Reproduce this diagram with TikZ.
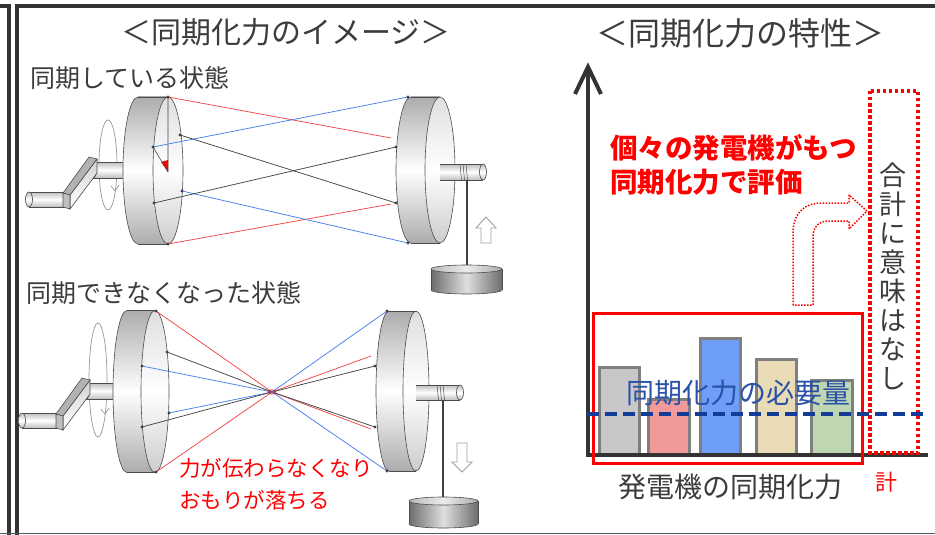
\documentclass[tikz,border=0pt]{standalone}
\usepackage{fontspec}
\setmainfont{Noto Sans CJK JP}
\usetikzlibrary{arrows.meta}
\definecolor{dk}{HTML}{333333}
\definecolor{tx}{HTML}{3C3C3C}
\definecolor{rd}{HTML}{FF0000}
\definecolor{lr}{HTML}{F04848}
\definecolor{lb}{HTML}{4A7FF0}
\definecolor{lk}{HTML}{454545}
\definecolor{nv}{HTML}{123C96}
\definecolor{tb}{HTML}{2A52A8}
\definecolor{bA}{HTML}{C9C7C9}
\definecolor{bB}{HTML}{F09A9A}
\definecolor{bC}{HTML}{6E9EF7}
\definecolor{bD}{HTML}{E8DBB5}
\definecolor{bE}{HTML}{BED6B2}
\definecolor{bo}{HTML}{7F7F7F}
\newcommand{\mydisc}[5]{%
  \shade[sidesh] (#1,#3) ellipse [x radius=#4, y radius=#5];
  \draw[dl] (#1,#3) ellipse [x radius=#4, y radius=#5];
  \shade[sidesh] (#1,{#3-#5}) rectangle (#2,{#3+#5});
  \draw[dl] (#1,{#3-#5}) -- (#2,{#3-#5}) (#1,{#3+#5}) -- (#2,{#3+#5});
  \shade[facesh] (#2,#3) ellipse [x radius=#4, y radius=#5];
  \draw[dl] (#2,#3) ellipse [x radius=#4, y radius=#5];
}
\newcommand{\cylL}[4]{%
  \shade[cylsh] (#1,{#3-#4}) rectangle (#2,{#3+#4});
  \draw[dl] (#1,{#3-#4}) -- (#2,{#3-#4}) (#1,{#3+#4}) -- (#2,{#3+#4});
  \shade[cylsh] (#1,#3) ellipse [x radius=3.5, y radius=#4];
  \draw[dl] (#1,#3) ellipse [x radius=3.5, y radius=#4];
}
\newcommand{\cylR}[4]{%
  \shade[cylsh] (#1,{#3-#4}) rectangle (#2,{#3+#4});
  \draw[dl] (#1,{#3-#4}) -- (#2,{#3-#4}) (#1,{#3+#4}) -- (#2,{#3+#4});
  \shade[cylsh] (#2,#3) ellipse [x radius=3.5, y radius=#4];
  \draw[dl] (#2,#3) ellipse [x radius=3.5, y radius=#4];
}
\newcommand{\myweight}[4]{% cx, ytop, ybot, rx
  \shade[wsh] (#1,#3) ellipse [x radius=#4, y radius=4];
  \draw[dl] (#1,#3) ellipse [x radius=#4, y radius=4];
  \shade[wsh] ({#1-#4},#2) rectangle ({#1+#4},#3);
  \draw[dl] ({#1-#4},#2) -- ({#1-#4},#3) ({#1+#4},#2) -- ({#1+#4},#3);
  \shade[left color=gray!55, right color=gray!65, middle color=gray!15] (#1,#2) ellipse [x radius=#4, y radius=4];
  \draw[dl] (#1,#2) ellipse [x radius=#4, y radius=4];
}
\newcommand{\mycrank}{%
  \cylL{93}{132}{170}{8}
  \cylL{29}{67}{199.5}{7.5}
  \shade[top color=gray!35, bottom color=white] (70,195) -- (97,159) -- (97,173) -- (70,209) -- cycle;
  \draw[dl] (70,195) -- (97,159) -- (97,173) -- (70,209) -- cycle;
  \fill[gray!60] (63,193) -- (89,157) -- (97,159) -- (70,195) -- cycle;
  \draw[dl] (63,193) -- (89,157) -- (97,159) -- (70,195) -- cycle;
  \fill[gray!50] (63,193) -- (70,195) -- (70,209) -- (63,207) -- cycle;
  \draw[dl] (63,193) -- (70,195) -- (70,209) -- (63,207) -- cycle;
}
\newcommand{\pdot}[1]{\fill[black!75] (#1) circle [radius=1.7];}
\begin{document}
\begin{tikzpicture}[x=1pt,y=-1pt,
  txt/.style={inner sep=0pt, text=tx},
  dl/.style={draw=gray!60!black, line width=0.6pt},
  rl/.style={draw=lr, line width=0.75pt},
  bl/.style={draw=lb, line width=0.75pt},
  kl/.style={draw=lk, line width=0.75pt},
  barbox/.style={draw=bo, line width=3pt},
  sidesh/.style={top color=gray!65, bottom color=gray!65, middle color=white},
  facesh/.style={top color=gray!25, bottom color=gray!40, middle color=white},
  cylsh/.style={top color=gray!50, bottom color=gray!50, middle color=white},
  wsh/.style={left color=gray!85!black, right color=gray!85!black, middle color=gray!25},
  blockarrow/.style={draw=gray!75, fill=white, line width=0.9pt},
  rot/.style={draw=gray!80, line width=0.7pt}
]
\useasboundingbox (0,0) rectangle (935,535);
\fill[white] (0,0) rectangle (935,535);
% frame
\draw[dk, line width=4pt] (-2,6) -- (9,6) -- (9,540);
\draw[dk, line width=4pt] (17,540) -- (17,6) -- (940,6);
\draw[gray!70!black, line width=1.5pt] (0,533.5) -- (935,533.5);

% ---------- left panel titles
\node[txt, font=\fontsize{30}{34}\selectfont] (t1) at (286,32) {＜同期化力のイメージ＞};
\node[txt, anchor=west, font=\fontsize{25}{28}\selectfont] (s1) at (30.5,78) {同期している状態};
\node[txt, anchor=west, font=\fontsize{25}{28}\selectfont] (s2) at (26.5,293) {同期できなくなった状態};

% ---------- top machine
\draw[rot] (108,165) ellipse [x radius=9, y radius=45];
\draw[rot] (111,186) -- (115,191) -- (119,185);
\mycrank
\mydisc{138}{168}{170.5}{15}{73.5}
\mydisc{411}{440}{170}{15}{73}
\coordinate (A1) at (168,97);
\coordinate (A2) at (180,135);
\coordinate (A3) at (153,147);
\coordinate (A4) at (182,191);
\coordinate (A5) at (154,203);
\coordinate (A6) at (168,244);
\coordinate (AC) at (168,172);
\coordinate (B1) at (408,97);
\coordinate (B2) at (396,147);
\coordinate (B3) at (396,203);
\coordinate (B4) at (408,243);
\coordinate (H1) at (391,138);
\coordinate (H2) at (391,204);
\fill[rd] (AC) -- (168,160) -- (161,162) -- cycle;
\draw[kl, line width=0.6pt] (A1) -- (AC) (A3) -- (AC);
\draw[rl] (A1) -- (H1);
\draw[rl] (A6) -- (H2);
\draw[bl] (A3) -- (B1);
\draw[bl] (A4) -- (B4);
\draw[kl] (A2) -- (B3);
\draw[kl] (A5) -- (B2);
\foreach \p in {A1,A2,A3,A4,A5,A6,B1,B2,B3,B4} {\pdot{\p}}
% right shaft, rope, weight
\cylR{440}{483}{172}{8}
\draw[gray!60!black, line width=0.5pt] (460,164) -- (461.5,180) (463,164) -- (464.5,180) (466,164) -- (467.5,180);
\coordinate (rope1) at (467,180);
\coordinate (w1) at (467,269);
\draw[gray!50!black, line width=1.2pt] (rope1) -- (w1);
\myweight{466.5}{269}{290}{35.5}
\draw[blockarrow] (486,217) -- (496,228) -- (491,228) -- (491,243) -- (481,243) -- (481,228) -- (476,228) -- cycle;

% ---------- bottom machine
\draw[rot] (98,380) ellipse [x radius=9, y radius=57];
\draw[rot] (101,409) -- (105,414) -- (109,408);
\begin{scope}[shift={(-7,221)}]
\mycrank
\end{scope}
\mydisc{127}{155}{391.5}{14}{81}
\mydisc{389}{416}{391}{13}{80}
\coordinate (C) at (272,392);
\coordinate (L1) at (156,311);
\coordinate (L2) at (167,352);
\coordinate (L3) at (142,366);
\coordinate (L4) at (169,413);
\coordinate (L5) at (142,427);
\coordinate (L6) at (156,472);
\coordinate (R1) at (387,311);
\coordinate (R2) at (375,366);
\coordinate (R3) at (375,427);
\coordinate (R4) at (387,471);
\coordinate (G1) at (371,356);
\coordinate (G2) at (371,429);
\draw[rl] (L1) -- (C) (L6) -- (C) (C) -- (G1) (C) -- (G2);
\draw[bl] (L3) -- (C) (L4) -- (C) (C) -- (R1) (C) -- (R4);
\draw[kl] (L2) -- (C) (L5) -- (C) (C) -- (R2) (C) -- (R3);
\draw[draw=rd, line width=0.6pt] (C) ellipse [x radius=3.5, y radius=2.2];
\draw[draw=lb, line width=0.5pt] (C) ellipse [x radius=1.8, y radius=1.5];
\foreach \p in {L1,L2,L3,L4,L5,L6,R1,R2,R3,R4} {\pdot{\p}}
\cylR{416}{460}{392.5}{7.5}
\draw[gray!60!black, line width=0.5pt] (437,385) -- (438.5,400) (440,385) -- (441.5,400) (443,385) -- (444.5,400);
\coordinate (rope2) at (443,400);
\coordinate (w2) at (443,501);
\draw[gray!50!black, line width=1.2pt] (rope2) -- (w2);
\myweight{443.5}{501}{524}{34.5}
\draw[blockarrow] (462,472) -- (472,462) -- (467,462) -- (467,443) -- (457,443) -- (457,462) -- (452,462) -- cycle;

\node[anchor=west, inner sep=0pt, text=rd, font=\fontsize{21.5}{24}\selectfont] (n1) at (179,468) {力が伝わらなくなり};
\node[anchor=west, inner sep=0pt, text=rd, font=\fontsize{21.5}{24}\selectfont] (n2) at (179,500) {おもりが落ちる};

% ---------- right panel
\node[txt, font=\fontsize{32}{36}\selectfont] (t2) at (740,33) {＜同期化力の特性＞};
\path[barbox, fill=bA] (599,367) rectangle (639,455);
\path[barbox, fill=bB] (648,399) rectangle (689,455);
\path[barbox, fill=bC] (700,338) rectangle (740,455);
\path[barbox, fill=bD] (756,359) rectangle (796,455);
\path[barbox, fill=bE] (811,380) rectangle (852,455);
\coordinate (O) at (588,455);
\coordinate (Ytop) at (588,67);
\coordinate (Xend) at (928,455);
\draw[dk, line width=4pt] (O) -- (Ytop);
\draw[dk, line width=4pt] (575,94) -- (Ytop) -- (601,94);
\draw[dk, line width=4pt] (586,455) -- (Xend);
\draw[rd, line width=3pt] (593,313) rectangle (862,463);
\draw[rd, line width=3.5pt, dash pattern=on 3.5pt off 2.5pt] (870,91) rectangle (918,453);
\draw[rd, line width=1.5pt, dash pattern=on 1.5pt off 1.5pt, line join=round]
  (793,305) -- (793,234) .. controls (793,214) and (803,203) .. (822,203) -- (849,203) -- (849,195) -- (867,211) -- (849,229) -- (849,221) -- (829,221) .. controls (818,221) and (813,227) .. (813,238) -- (813,305) -- cycle;
\draw[nv, line width=3.2pt, dash pattern=on 12pt off 6pt] (587,414) -- (926,414);
\node[anchor=west, inner sep=0pt, text=rd, font=\bfseries\fontsize{27.5}{30}\selectfont] (e1) at (610,148) {個々の発電機がもつ};
\node[anchor=west, inner sep=0pt, text=rd, font=\bfseries\fontsize{27.5}{30}\selectfont] (e2) at (610,182) {同期化力で評価};
\node[anchor=west, inner sep=0pt, text=tb, font=\fontsize{28}{30}\selectfont] (req) at (626,393) {同期化力の必要量};
\node[anchor=west, inner sep=0pt, text=tx, font=\fontsize{28}{30}\selectfont] (xl) at (618,487) {発電機の同期化力};
\node[inner sep=0pt, text=rd, font=\fontsize{22}{24}\selectfont] (kei) at (886,482) {計};
\node[txt, align=center, font=\fontsize{27}{29}\selectfont] (vt) at (893,276) {合\\計\\に\\意\\味\\は\\な\\し};
\end{tikzpicture}
\end{document}
